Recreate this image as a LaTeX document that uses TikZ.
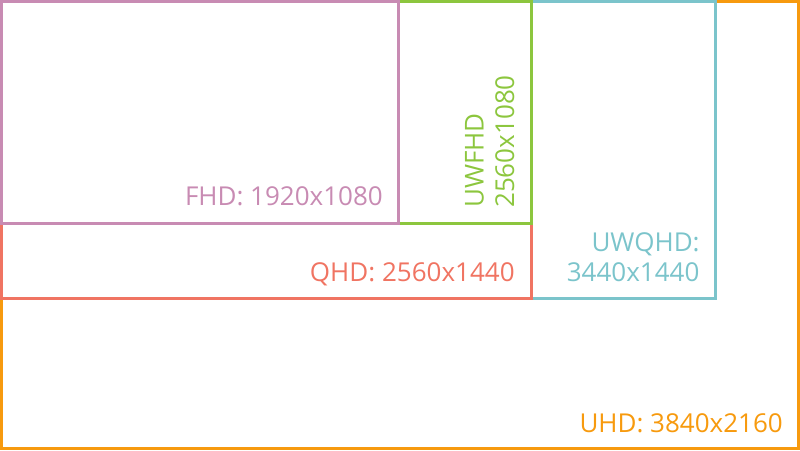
\documentclass[tikz,border=0pt]{standalone}
\usepackage{fontspec}
\setmainfont{Open Sans}
\definecolor{cfhd}{HTML}{C88BB3}
\definecolor{cuwfhd}{HTML}{8CC63E}
\definecolor{cqhd}{HTML}{F07462}
\definecolor{cuwqhd}{HTML}{7BC4CB}
\definecolor{cuhd}{HTML}{F79A0E}
\begin{document}
\begin{tikzpicture}[x=1pt,y=-1pt,
  box/.style={line width=3pt},
  lbl/.style={font=\fontsize{26}{30}\selectfont, inner sep=0pt}]
\useasboundingbox (0,0) rectangle (800,450);
% rectangles (drawn from largest to smallest)
\draw[box,cuhd]   (1.5,1.5) rectangle (798.5,448.5);
\draw[box,cuwqhd] (1.5,1.5) rectangle (715.2,298.5);
\draw[box,cqhd]   (1.5,1.5) rectangle (531.8,298.5);
\draw[box,cuwfhd] (1.5,1.5) rectangle (531.8,223.5);
\draw[box,cfhd]   (1.5,1.5) rectangle (398.5,223.5);
% labels
\node[lbl,text=cfhd,anchor=base east] (lfhd) at (383,205.7) {FHD: 1920x1080};
\node[lbl,text=cqhd,anchor=base east] (lqhd) at (514.8,281) {QHD: 2560x1440};
\node[lbl,text=cuwqhd,anchor=base east] (luwqhd1) at (699.8,251.7) {UWQHD:};
\node[lbl,text=cuwqhd,anchor=base east] (luwqhd2) at (699.6,281.7) {3440x1440};
\node[lbl,text=cuhd,anchor=base east] (luhd) at (783,432.7) {UHD: 3840x2160};
\node[lbl,text=cuwfhd,anchor=base west,rotate=90] (luwfhd1) at (483.5,208) {UWFHD};
\node[lbl,text=cuwfhd,anchor=base west,rotate=90] (luwfhd2) at (514,208) {2560x1080};
\end{tikzpicture}
\end{document}
